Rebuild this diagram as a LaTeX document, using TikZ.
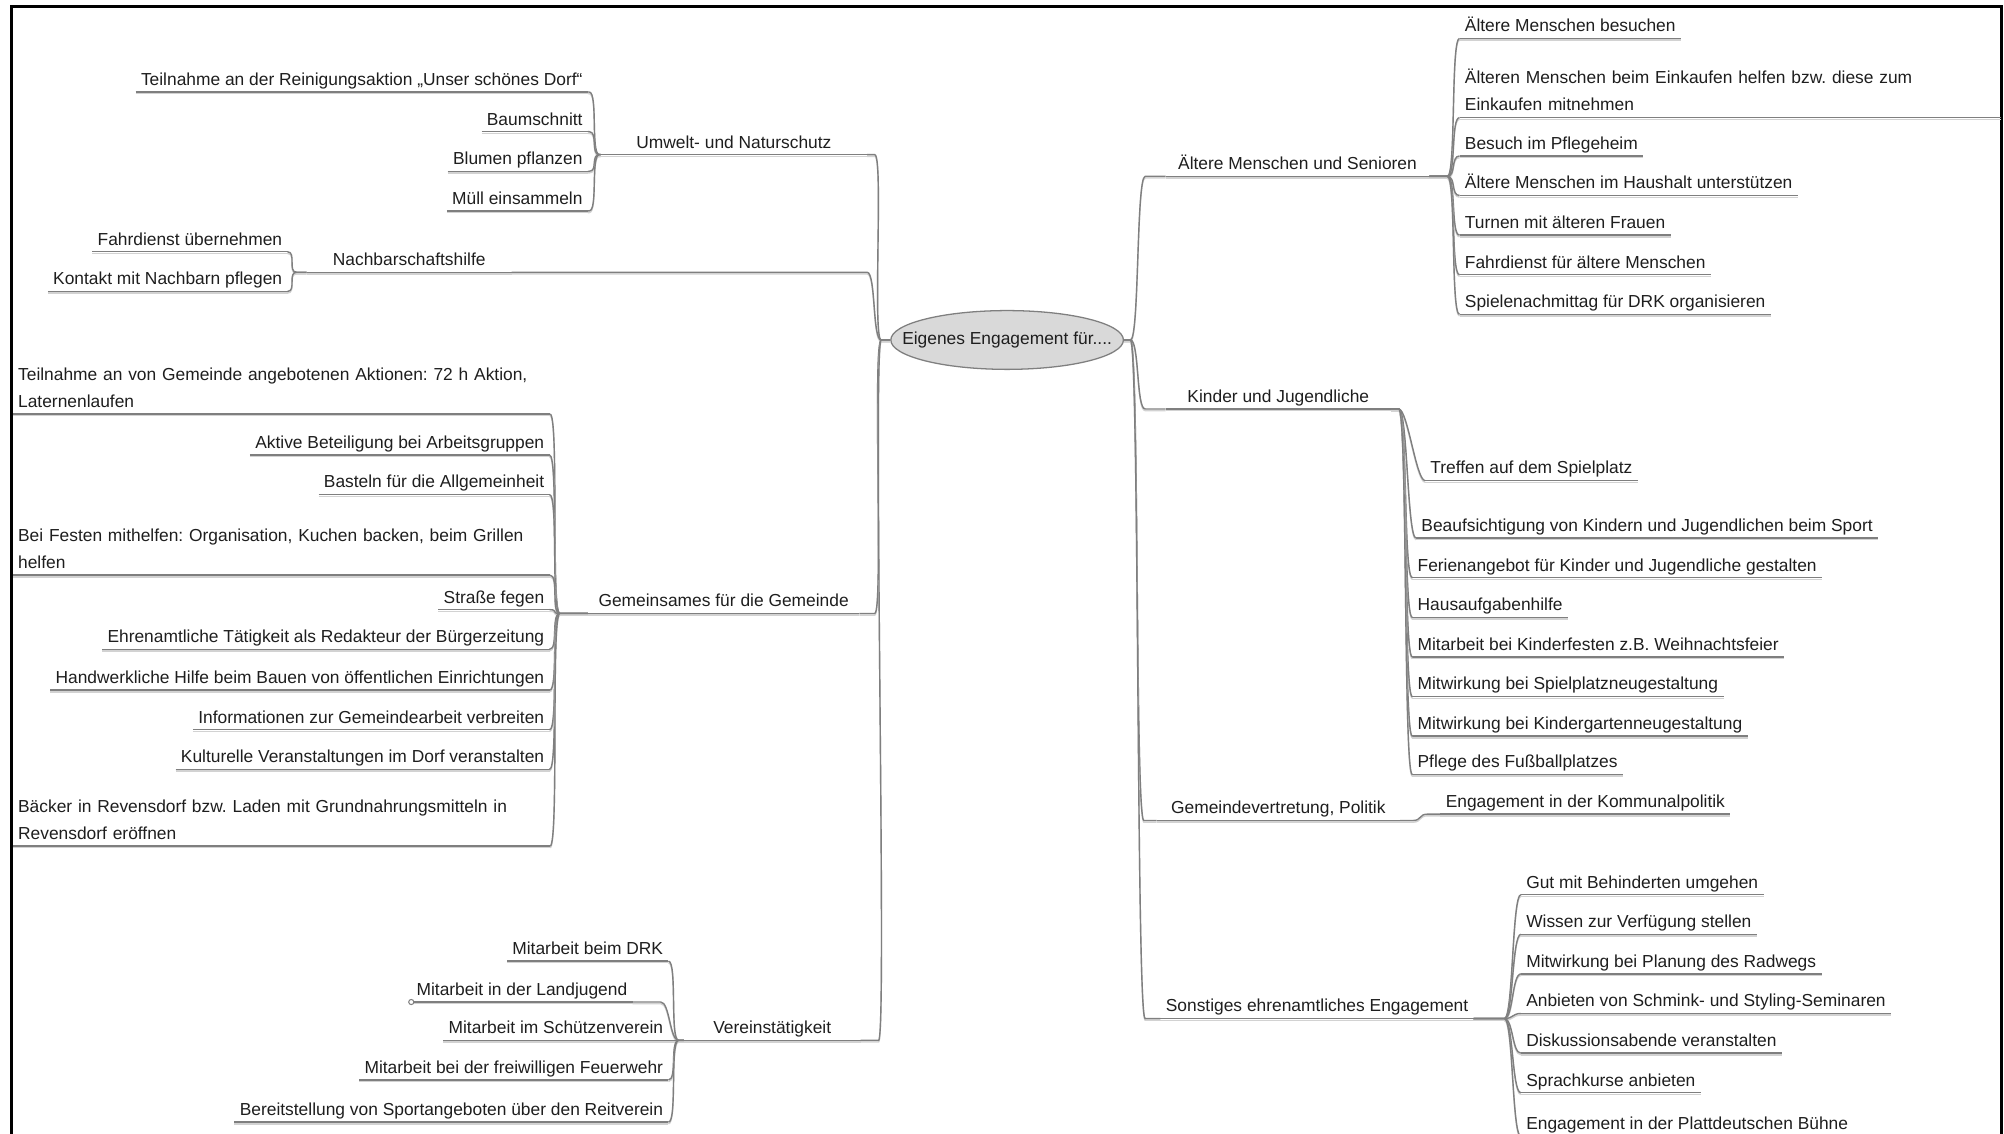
\documentclass[tikz,border=0pt]{standalone}
\usepackage{fontspec}
\setmainfont{Liberation Sans}
\frenchspacing
\usetikzlibrary{shapes.geometric,calc}
\definecolor{linegray}{HTML}{7F7F7F}
\definecolor{shadegray}{HTML}{D2D2D2}
\definecolor{rootfill}{HTML}{D9D9D9}
\definecolor{txt}{HTML}{1E1E1E}
\tikzset{
  wire/.style={draw=linegray,line width=1.1pt,preaction={draw=shadegray,line width=1.1pt,transform canvas={yshift=-1.3pt}}},
  lbl/.style={font=\fontsize{13.6}{21}\selectfont,text=txt,inner xsep=4pt,
    append after command={(\tikzlastnode.south west) edge[wire] (\tikzlastnode.south east)}},
  leaf/.style={lbl,inner ysep=2pt,text height=10pt,text depth=3pt},
  lleaf/.style={leaf,anchor=south east},
  rleaf/.style={leaf,anchor=south west},
  para/.style={lbl,inner ysep=5pt,text width=#1,align=left,anchor=south west},
  topic/.style={leaf,minimum width=#1,anchor=south west},
  root/.style={ellipse,draw=linegray,fill=rootfill,line width=1pt,minimum width=182pt,minimum height=46pt,
    inner xsep=-19pt,inner ysep=0pt,font=\fontsize{13.6}{16}\selectfont,text=txt},
  brace/.style 2 args={to path={-- ++(#1,0) .. controls +(7,0) and +(-7,0) .. ($(\tikztotarget)+(-#2,0)$) -- (\tikztotarget)}}
}
\begin{document}
\begin{tikzpicture}[x=1pt,y=-1pt]
  \useasboundingbox (0,0) rectangle (1568,887);
  \draw[line width=2.4pt] (9,887) -- (9,5.2) -- (1566,5.2) -- (1566,887);

  \node[root] (root) at (788,266) {Eigenes Engagement für....};

  \node[topic=208pt] (umw) at (470,121) {Umwelt- und Naturschutz};
  \node[topic=160pt] (nach) at (240,213) {Nachbarschaftshilfe};
  \node[topic=212pt] (gem) at (460,480) {Gemeinsames für die Gemeinde};
  \node[topic=138pt] (ver) at (535,814) {Vereinstätigkeit};
  \node[topic=206pt] (alt) at (912,138) {Ältere Menschen und Senioren};
  \node[topic=176pt] (kin) at (912,320) {Kinder und Jugendliche};
  \node[topic=190pt] (gvp) at (905,642) {Gemeindevertretung, Politik};
  \node[topic=227pt] (son) at (908,797) {Sonstiges ehrenamtliches Engagement};

  \node[lleaf] (u1) at (460,72) {Teilnahme an der Reinigungsaktion „Unser schönes Dorf“};
  \node[lleaf] (u2) at (460,103) {Baumschnitt};
  \node[lleaf] (u3) at (460,134) {Blumen pflanzen};
  \node[lleaf] (u4) at (460,165) {Müll einsammeln};

  \node[lleaf] (n1) at (225,197) {Fahrdienst übernehmen};
  \node[lleaf] (n2) at (225,228) {Kontakt mit Nachbarn pflegen};

  \node[para=412pt] (g1) at (10,324) {Teilnahme an von Gemeinde angebotenen Aktionen: 72 h Aktion,\\Laternenlaufen};
  \node[lleaf] (g2) at (430,356) {Aktive Beteiligung bei Arbeitsgruppen};
  \node[lleaf] (g3) at (430,387) {Basteln für die Allgemeinheit};
  \node[para=412pt] (g4) at (10,450) {Bei Festen mithelfen: Organisation, Kuchen backen, beim Grillen\\helfen};
  \node[lleaf] (g5) at (430,477) {Straße fegen};
  \node[lleaf] (g6) at (430,508) {Ehrenamtliche Tätigkeit als Redakteur der Bürgerzeitung};
  \node[lleaf] (g7) at (430,540) {Handwerkliche Hilfe beim Bauen von öffentlichen Einrichtungen};
  \node[lleaf] (g8) at (430,571) {Informationen zur Gemeindearbeit verbreiten};
  \node[lleaf] (g9) at (430,602) {Kulturelle Veranstaltungen im Dorf veranstalten};
  \node[para=412pt] (g10) at (10,662) {Bäcker in Revensdorf bzw. Laden mit Grundnahrungsmitteln in\\Revensdorf eröffnen};

  \node[lleaf] (v1) at (523,752) {Mitarbeit beim DRK};
  \node[lleaf] (v2) at (495,784) {Mitarbeit in der Landjugend};
  \node[lleaf] (v3) at (523,814) {Mitarbeit im Schützenverein};
  \node[lleaf] (v4) at (523,845) {Mitarbeit bei der freiwilligen Feuerwehr};
  \node[lleaf] (v5) at (523,878) {Bereitstellung von Sportangeboten über den Reitverein};

  \node[rleaf] (a1) at (1142,30) {Ältere Menschen besuchen};
  \node[para=415pt] (a2) at (1142,92) {Älteren Menschen beim Einkaufen helfen bzw. diese zum\\Einkaufen mitnehmen};
  \node[rleaf] (a3) at (1142,122) {Besuch im Pflegeheim};
  \node[rleaf] (a4) at (1142,153) {Ältere Menschen im Haushalt unterstützen};
  \node[rleaf] (a5) at (1142,184) {Turnen mit älteren Frauen};
  \node[rleaf] (a6) at (1142,215) {Fahrdienst für ältere Menschen};
  \node[rleaf] (a7) at (1142,246) {Spielenachmittag für DRK organisieren};

  \node[rleaf] (k1) at (1115,376) {Treffen auf dem Spielplatz};
  \node[rleaf] (k2) at (1108,421) {Beaufsichtigung von Kindern und Jugendlichen beim Sport};
  \node[rleaf] (k3) at (1105,452) {Ferienangebot für Kinder und Jugendliche gestalten};
  \node[rleaf] (k4) at (1105,483) {Hausaufgabenhilfe};
  \node[rleaf] (k5) at (1105,514) {Mitarbeit bei Kinderfesten z.B. Weihnachtsfeier};
  \node[rleaf] (k6) at (1105,545) {Mitwirkung bei Spielplatzneugestaltung};
  \node[rleaf] (k7) at (1105,576) {Mitwirkung bei Kindergartenneugestaltung};
  \node[rleaf] (k8) at (1105,606) {Pflege des Fußballplatzes};

  \node[rleaf] (p1) at (1127,637) {Engagement in der Kommunalpolitik};

  \node[rleaf] (s1) at (1190,700) {Gut mit Behinderten umgehen};
  \node[rleaf] (s2) at (1190,731) {Wissen zur Verfügung stellen};
  \node[rleaf] (s3) at (1190,762) {Mitwirkung bei Planung des Radwegs};
  \node[rleaf] (s4) at (1190,793) {Anbieten von Schmink- und Styling-Seminaren};
  \node[rleaf] (s5) at (1190,824) {Diskussionsabende veranstalten};
  \node[rleaf] (s6) at (1190,855) {Sprachkurse anbieten};
  \node[rleaf] (s7) at (1190,889) {Engagement in der Plattdeutschen Bühne};

  \draw[wire] (umw.south east) to[brace={6}{7}] (root.west);
  \draw[wire] (nach.south east) to[brace={278}{7}] (root.west);
  \draw[wire] (gem.south east) to[brace={12}{7}] (root.west);
  \draw[wire] (ver.south east) to[brace={14}{7}] (root.west);
  \draw[wire] (root.east) to[brace={5}{16}] (alt.south west);
  \draw[wire] (root.east) to[brace={5}{16}] (kin.south west);
  \draw[wire] (root.east) to[brace={5}{10}] (gvp.south west);
  \draw[wire] (root.east) to[brace={5}{12}] (son.south west);

  \draw[wire] (u1.south east) to[brace={1}{1}] (umw.south west);
  \draw[wire] (u2.south east) to[brace={1}{1}] (umw.south west);
  \draw[wire] (u3.south east) to[brace={1}{1}] (umw.south west);
  \draw[wire] (u4.south east) to[brace={1}{1}] (umw.south west);

  \draw[wire] (n1.south east) to[brace={0}{8}] (nach.south west);
  \draw[wire] (n2.south east) to[brace={0}{8}] (nach.south west);

  \draw[wire] (g1.south east) to[brace={0}{22}] (gem.south west);
  \draw[wire] (g2.south east) to[brace={0}{22}] (gem.south west);
  \draw[wire] (g3.south east) to[brace={0}{22}] (gem.south west);
  \draw[wire] (g4.south east) to[brace={0}{22}] (gem.south west);
  \draw[wire] (g5.south east) to[brace={0}{22}] (gem.south west);
  \draw[wire] (g6.south east) to[brace={0}{22}] (gem.south west);
  \draw[wire] (g7.south east) to[brace={0}{22}] (gem.south west);
  \draw[wire] (g8.south east) to[brace={0}{22}] (gem.south west);
  \draw[wire] (g9.south east) to[brace={0}{22}] (gem.south west);
  \draw[wire] (g10.south east) to[brace={0}{22}] (gem.south west);

  \draw[wire] (v1.south east) to[brace={0}{4}] (ver.south west);
  \draw[wire] (v2.south east) to[brace={22}{4}] (ver.south west);
  \draw[wire] (v3.south east) to[brace={0}{4}] (ver.south west);
  \draw[wire] (v4.south east) to[brace={0}{4}] (ver.south west);
  \draw[wire] (v5.south east) to[brace={0}{4}] (ver.south west);
  \draw[draw=linegray,fill=white,line width=0.8pt] (v2.south west) circle (2pt);

  \draw[wire] (alt.south east) to[brace={14}{0}] (a1.south west);
  \draw[wire] (alt.south east) to[brace={14}{0}] (a2.south west);
  \draw[wire] (alt.south east) to[brace={14}{0}] (a3.south west);
  \draw[wire] (alt.south east) to[brace={14}{0}] (a4.south west);
  \draw[wire] (alt.south east) to[brace={14}{0}] (a5.south west);
  \draw[wire] (alt.south east) to[brace={14}{0}] (a6.south west);
  \draw[wire] (alt.south east) to[brace={14}{0}] (a7.south west);

  \draw[wire] (kin.south east) to[brace={6}{0}] (k1.south west);
  \draw[wire] (kin.south east) to[brace={6}{0}] (k2.south west);
  \draw[wire] (kin.south east) to[brace={6}{0}] (k3.south west);
  \draw[wire] (kin.south east) to[brace={6}{0}] (k4.south west);
  \draw[wire] (kin.south east) to[brace={6}{0}] (k5.south west);
  \draw[wire] (kin.south east) to[brace={6}{0}] (k6.south west);
  \draw[wire] (kin.south east) to[brace={6}{0}] (k7.south west);
  \draw[wire] (kin.south east) to[brace={6}{0}] (k8.south west);

  \draw[wire] (gvp.south east) to[brace={10}{10}] (p1.south west);

  \draw[wire] (son.south east) to[brace={24}{0}] (s1.south west);
  \draw[wire] (son.south east) to[brace={24}{0}] (s2.south west);
  \draw[wire] (son.south east) to[brace={24}{0}] (s3.south west);
  \draw[wire] (son.south east) to[brace={24}{0}] (s4.south west);
  \draw[wire] (son.south east) to[brace={24}{0}] (s5.south west);
  \draw[wire] (son.south east) to[brace={24}{0}] (s6.south west);
  \draw[wire] (son.south east) to[brace={24}{0}] (s7.south west);
\end{tikzpicture}
\end{document}
